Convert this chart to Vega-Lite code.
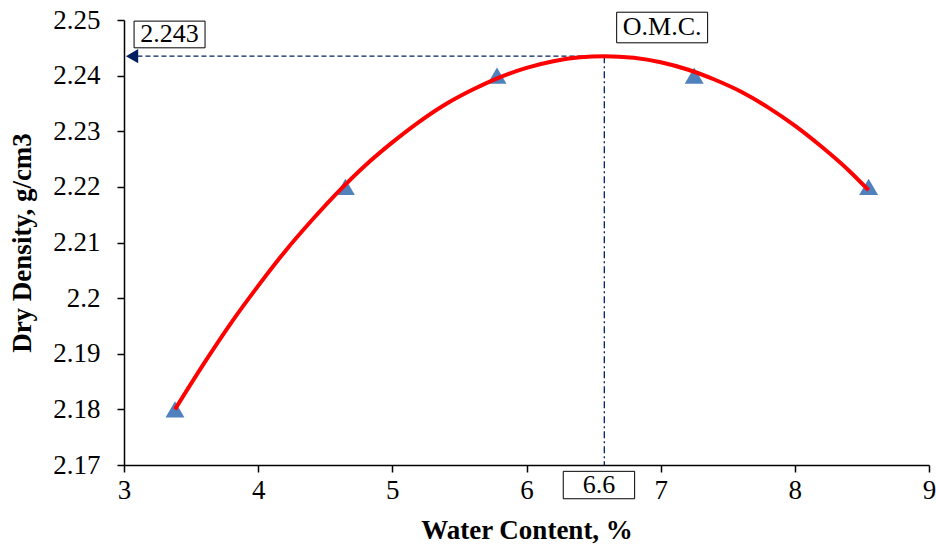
{
  "$schema": "https://vega.github.io/schema/vega-lite/v6.json",
  "width": 805,
  "height": 445,
  "autosize": {"type": "none"},
  "padding": {"left": 124, "top": 20, "right": 7, "bottom": 86},
  "background": "white",
  "config": {
    "view": {"stroke": null},
    "font": "Liberation Serif",
    "axis": {
      "grid": false,
      "domainColor": "black",
      "domainWidth": 1.5,
      "tickColor": "black",
      "tickWidth": 1.5,
      "tickSize": 7,
      "labelFlush": false,
      "labelOverlap": false,
      "labelFont": "Liberation Serif",
      "labelFontSize": 27,
      "labelColor": "black",
      "titleFont": "Liberation Serif",
      "titleFontSize": 27,
      "titleFontWeight": "bold",
      "titleColor": "black"
    }
  },
  "datasets": {
    "points": [
      {"w": 3.38, "d": 2.18},
      {"w": 4.65, "d": 2.22},
      {"w": 5.78, "d": 2.24},
      {"w": 7.25, "d": 2.24},
      {"w": 8.55, "d": 2.22}
    ],
    "curve": [
      {"w": 3.38, "d": 2.18},
      {"w": 3.6, "d": 2.1884},
      {"w": 3.8, "d": 2.1956},
      {"w": 4.0, "d": 2.2022},
      {"w": 4.2, "d": 2.2084},
      {"w": 4.4, "d": 2.214},
      {"w": 4.6, "d": 2.2192},
      {"w": 4.8, "d": 2.2239},
      {"w": 5.0, "d": 2.228},
      {"w": 5.2, "d": 2.2317},
      {"w": 5.4, "d": 2.2349},
      {"w": 5.6, "d": 2.2375},
      {"w": 5.8, "d": 2.2397},
      {"w": 6.0, "d": 2.2414},
      {"w": 6.2, "d": 2.2426},
      {"w": 6.4, "d": 2.2433},
      {"w": 6.58, "d": 2.2435},
      {"w": 6.8, "d": 2.2432},
      {"w": 7.0, "d": 2.2424},
      {"w": 7.2, "d": 2.2411},
      {"w": 7.4, "d": 2.2393},
      {"w": 7.6, "d": 2.2371},
      {"w": 7.8, "d": 2.2343},
      {"w": 8.0, "d": 2.231},
      {"w": 8.2, "d": 2.2272},
      {"w": 8.4, "d": 2.223},
      {"w": 8.55, "d": 2.2194}
    ],
    "hline": [{"x1": 3.1, "x2": 6.58, "y": 2.2435}],
    "vline": [{"x": 6.58, "y1": 2.2435, "y2": 2.17}],
    "arrow": [{"x": 3.06, "y": 2.2435}],
    "boxes": [
      {"x1": 3.075, "x2": 3.604, "y1": 2.2498, "y2": 2.245, "label": "2.243", "tx": 3.339, "ty": 2.2474},
      {"x1": 6.672, "x2": 7.35, "y1": 2.2514, "y2": 2.2459, "label": "O.M.C.", "tx": 7.011, "ty": 2.2487},
      {"x1": 6.274, "x2": 6.806, "y1": 2.16886, "y2": 2.16393, "label": "6.6", "tx": 6.54, "ty": 2.1664}
    ]
  },
  "layer": [
    {
      "data": {"name": "hline"},
      "mark": {"type": "rule", "color": "#002060", "strokeWidth": 1.3, "strokeDash": [5, 3]},
      "encoding": {
        "x": {"field": "x1", "type": "quantitative", "scale": {"domain": [3, 9], "nice": false},
          "axis": {"values": [3, 4, 5, 6, 7, 8, 9], "format": "~g", "title": "Water Content, %", "labelFont": "Liberation Serif", "labelPadding": 5, "titlePadding": 14}},
        "x2": {"field": "x2"},
        "y": {"field": "y", "type": "quantitative", "scale": {"domain": [2.17, 2.25], "nice": false, "zero": false},
          "axis": {"values": [2.17, 2.18, 2.19, 2.2, 2.21, 2.22, 2.23, 2.24, 2.25], "format": "~g", "title": "Dry Density, g/cm3", "labelFont": "Liberation Serif", "labelPadding": 17, "titlePadding": 16}}
      }
    },
    {
      "data": {"name": "vline"},
      "mark": {"type": "rule", "color": "#002060", "strokeWidth": 1.3, "strokeDash": [7, 3, 2, 3]},
      "encoding": {
        "x": {"field": "x", "type": "quantitative"},
        "y": {"field": "y1", "type": "quantitative"},
        "y2": {"field": "y2"}
      }
    },
    {
      "data": {"name": "arrow"},
      "mark": {"type": "point", "shape": "triangle-left", "filled": true, "color": "#002060", "size": 200, "opacity": 1},
      "encoding": {
        "x": {"field": "x", "type": "quantitative"},
        "y": {"field": "y", "type": "quantitative"}
      }
    },
    {
      "data": {"name": "points"},
      "mark": {"type": "point", "shape": "triangle-up", "filled": true, "color": "#4F81BD", "size": 360, "opacity": 1},
      "encoding": {
        "x": {"field": "w", "type": "quantitative"},
        "y": {"field": "d", "type": "quantitative"}
      }
    },
    {
      "data": {"name": "curve"},
      "mark": {"type": "line", "color": "#FF0000", "strokeWidth": 4, "interpolate": "monotone"},
      "encoding": {
        "x": {"field": "w", "type": "quantitative"},
        "y": {"field": "d", "type": "quantitative"}
      }
    },
    {
      "data": {"name": "boxes"},
      "mark": {"type": "rect", "fill": "white", "stroke": "black", "strokeWidth": 1, "clip": false},
      "encoding": {
        "x": {"field": "x1", "type": "quantitative"},
        "x2": {"field": "x2"},
        "y": {"field": "y1", "type": "quantitative"},
        "y2": {"field": "y2"}
      }
    },
    {
      "data": {"name": "boxes"},
      "mark": {"type": "text", "font": "Liberation Serif", "fontSize": 26, "color": "black", "align": "center", "baseline": "middle", "clip": false},
      "encoding": {
        "x": {"field": "tx", "type": "quantitative"},
        "y": {"field": "ty", "type": "quantitative"},
        "text": {"field": "label"}
      }
    }
  ]
}
